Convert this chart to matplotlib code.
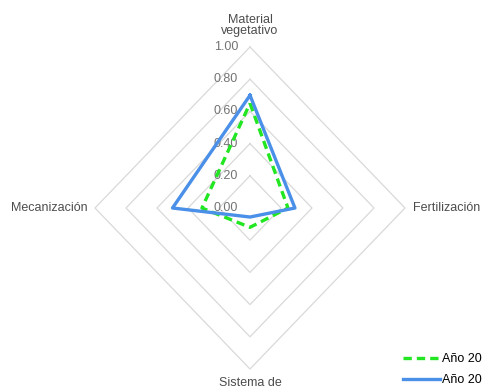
import matplotlib
matplotlib.use('Agg')
import matplotlib.pyplot as plt
import numpy as np

plt.rcParams['font.family'] = ['Liberation Sans', 'DejaVu Sans']

# Data
categories = ['Material\nvegetativo', 'Fertilización', 'Sistema de', 'Mecanización']
series_labels = ['Año 20', 'Año 20']
serie_verde = [0.65, 0.245, 0.12, 0.31]
serie_azul = [0.70, 0.29, 0.056, 0.50]
ticks = [0.0, 0.2, 0.4, 0.6, 0.8, 1.0]
tick_labels = ['0.00', '0.20', '0.40', '0.60', '0.80', '1.00']


def closed(vals):
    return list(vals) + [vals[0]]


fig = plt.figure(figsize=(4.85, 3.89), dpi=100)
ax = fig.add_axes([95 / 485, (389 - 369) / 389, 310 / 485, 322 / 389], projection='polar')
ax.set_aspect('auto')
ax.set_theta_offset(np.pi / 2)
ax.set_theta_direction(-1)
ax.set_ylim(0, 1)
ax.grid(False)
ax.spines['polar'].set_visible(False)
ax.set_xticks([])
ax.set_yticks([])
ax.patch.set_visible(False)

theta = np.arange(len(categories)) * 2 * np.pi / len(categories)
th = closed(list(theta))

# Grid (diamonds)
for r in ticks[1:]:
    ax.plot(th, [r] * len(th), color='#d9d9d9', lw=0.9, zorder=1, clip_on=False)

# Radial tick labels
for r, lbl in zip(ticks, tick_labels):
    ax.annotate(lbl, (0, r), xytext=(-8.6, 0), textcoords='offset points',
                ha='right', va='center', fontsize=9, color='#737373', zorder=2,
                annotation_clip=False)

# Series
ax.plot(th, closed(serie_verde), color='#22e622', lw=2.4, ls=(0, (2.5, 1.5)),
        label=series_labels[0], zorder=3, clip_on=False)
ax.plot(th, closed(serie_azul), color='#4a8fe8', lw=2.4,
        label=series_labels[1], zorder=4, clip_on=False)

# Category labels
offsets = [((0, 7), 'center', 'bottom'), ((6, 0), 'left', 'center'),
           ((0, -6), 'center', 'top'), ((-5, 0), 'right', 'center')]
for t, name, (off, ha, va) in zip(theta, categories, offsets):
    ax.annotate(name, (t, 1.0), xytext=off, textcoords='offset points',
                ha=ha, va=va, fontsize=9, color='#4d4d4d', linespacing=0.95,
                annotation_clip=False)

fig.legend(loc='lower right', bbox_to_anchor=(1.0, 0.0), frameon=False,
           fontsize=9, handlelength=2.95, handletextpad=0.2, labelspacing=0.7,
           borderaxespad=0.05, borderpad=0.2)

fig.savefig('out.png', dpi=100)
